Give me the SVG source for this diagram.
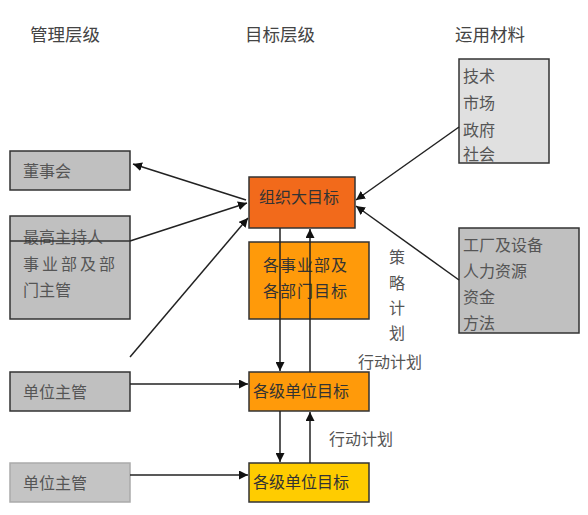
<svg xmlns="http://www.w3.org/2000/svg" width="588" height="515" viewBox="0 0 588 515">
<style>
text{font-family:"Noto Sans CJK SC","Noto Sans CJK JP",sans-serif;font-size:16px;fill:#555}
.hd{fill:#444;font-size:17.5px}
.box{stroke:#333;stroke-width:1.5}
.gray{fill:#c0c0c0}
.lt{fill:#e0e0e0}
.dk{fill:#333}
.cn line{stroke:#222;stroke-width:1.5}
</style>
<defs>
<marker id="ah" viewBox="0 0 10 10" refX="10" refY="5" markerWidth="9" markerHeight="9" markerUnits="userSpaceOnUse" orient="auto"><path d="M0,0L10,5L0,10z" fill="#111"/></marker>
</defs>
<rect width="588" height="515" fill="#fff"/>
<g id="headers">
<text class="hd" x="30" y="41">管理层级</text>
<text class="hd" x="245" y="41">目标层级</text>
<text class="hd" x="455" y="41">运用材料</text>
</g>
<g id="n-board"><rect class="box gray" x="10" y="151" width="120" height="39"/><text x="23" y="177" font-size="16.5">董事会</text></g>
<g id="n-exec"><rect class="box gray" x="10" y="216" width="120" height="103"/><text x="23" y="243" font-size="16.5">最高主持人</text><line x1="10" y1="241" x2="130" y2="241" stroke="#333" stroke-width="1.5"/><text x="23" y="270" font-size="16.5" letter-spacing="3">事业部及部</text><text x="23" y="296" font-size="16.5">门主管</text></g>
<g id="n-unit1"><rect class="box gray" x="10" y="372" width="120" height="39"/><text x="23" y="398" font-size="17">单位主管</text></g>
<g id="n-unit2"><rect x="10" y="463" width="120" height="39" fill="#c4c4c4" stroke="#aaa" stroke-width="1.5"/><text x="23" y="489" font-size="17">单位主管</text></g>
<g id="n-org"><rect class="box" x="249" y="177" width="106" height="51" fill="#f26a1b"/><text class="dk" x="259" y="203" font-size="17">组织大目标</text></g>
<g id="n-dept"><rect class="box" x="249" y="242" width="120" height="77" fill="#ff9a0a"/><text class="dk" x="263" y="271" font-size="18" letter-spacing="1">各事业部及</text><text class="dk" x="263" y="297" font-size="18" letter-spacing="1">各部门目标</text></g>
<g id="n-goal1"><rect class="box" x="249" y="372" width="120" height="39" fill="#ff9a0a"/><text class="dk" x="253" y="397" font-size="17">各级单位目标</text></g>
<g id="n-goal2"><rect class="box" x="249" y="463" width="120" height="39" fill="#ffcc00"/><text class="dk" x="253" y="488" font-size="17">各级单位目标</text></g>
<g id="n-tech"><rect class="box lt" x="459" y="59" width="90" height="104"/><text x="463" y="82">技术</text><text x="463" y="109">市场</text><text x="463" y="136">政府</text><text x="463" y="160">社会</text></g>
<g id="n-res"><rect class="box gray" x="459" y="228" width="120" height="105"/><text x="463" y="251" font-size="17">工厂及设备</text><text x="463" y="277" font-size="17">人力资源</text><text x="463" y="303" font-size="17">资金</text><text x="463" y="329" font-size="17">方法</text></g>
<g id="labels">
<text x="389" y="263" font-size="17">策</text><text x="389" y="289" font-size="17">略</text><text x="389" y="314" font-size="17">计</text><text x="389" y="339" font-size="17">划</text>
<text x="358" y="368" font-size="17">行动计划</text>
<text x="329" y="445" font-size="17">行动计划</text>
</g>
<g class="cn" id="connectors">
<line x1="246" y1="200" x2="133" y2="164" marker-end="url(#ah)"/>
<line x1="130" y1="241" x2="247" y2="203" marker-end="url(#ah)"/>
<line x1="130" y1="357" x2="248" y2="218" marker-end="url(#ah)"/>
<line x1="459" y1="127" x2="356" y2="200" marker-end="url(#ah)"/>
<line x1="459" y1="280" x2="356" y2="206" marker-end="url(#ah)"/>
<line x1="280" y1="228" x2="280" y2="371" marker-end="url(#ah)"/>
<line x1="310" y1="372" x2="310" y2="229" marker-end="url(#ah)"/>
<line x1="130" y1="384" x2="248" y2="384" marker-end="url(#ah)"/>
<line x1="130" y1="475" x2="248" y2="475" marker-end="url(#ah)"/>
<line x1="280" y1="411" x2="280" y2="462" marker-end="url(#ah)"/>
<line x1="310" y1="463" x2="310" y2="412" marker-end="url(#ah)"/>
</g>
</svg>
